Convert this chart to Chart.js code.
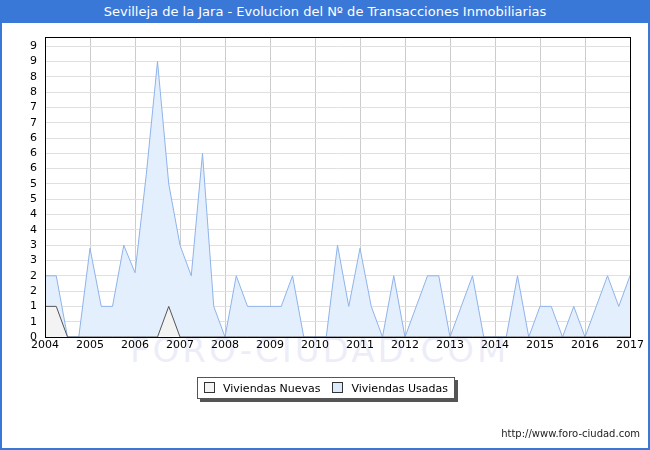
<!DOCTYPE html>
<html><head><meta charset="utf-8">
<script src="https://cdn.jsdelivr.net/npm/chart.js@4"></script>
<style>
body{margin:0;width:650px;height:450px;overflow:hidden;font-family:"DejaVu Sans",sans-serif;background:#fff}
#wrap{position:absolute;left:0;top:0;width:646px;height:448px;border:2px solid #3a78d8;border-top:none}
#title{position:absolute;left:0;top:0;width:650px;height:23px;background:#3a78d8;color:#fff;font-size:13px;text-align:center;line-height:23px}
#c{position:absolute;left:0;top:0}
#legend{position:absolute;left:197px;top:377px;width:256px;height:20px;border:1px solid #555;box-shadow:3px 3px 0 #555;background:#fff;font-size:11px;display:flex;align-items:center;justify-content:space-around}
#legend span.b{display:inline-block;width:9px;height:9px;border:1px solid #333;margin-right:8px;vertical-align:-1px}
#url{position:absolute;right:10px;top:428px;font-size:10px;color:#222}
#wm{position:absolute;left:130px;top:330px;font-size:34px;color:rgba(200,205,235,0.35);letter-spacing:3px}
</style></head><body>
<div id="wrap"></div>
<div id="wm">FORO-CIUDAD.COM</div>
<canvas id="c" width="650" height="450"></canvas>
<div id="title">Sevilleja de la Jara - Evolucion del Nº de Transacciones Inmobiliarias</div>
<div id="legend"><div><span class="b" style="background:#f3f3f3"></span>Viviendas Nuevas</div><div><span class="b" style="background:#dcebfb"></span>Viviendas Usadas</div></div>
<div id="url">http://www.foro-ciudad.com</div>
<script>
const startYear = 2004;
const endYear = 2017;
const usadas = [2,2,0,0,2.9,1,1,3,2.1,5.3,9,5,3,2,6,1,0,2,1,1,1,1,2,0,0,
  0,3,1,2.9,1,0,2,0,1,2,2,0,1,2,0,0,0,2,0,1,1,0,1,0,1,2,1,2];
const nuevas = [1,1,0,0,0,0,0,0,0,0,0,1,0,0,0,0,0,0,0,0,0,0,0,0,0,
  0,0,0,0,0,0,0,0,0,0,0,0,0,0,0,0,0,0,0,0,0,0,0,0,0,0,0,0];
const yTickLabels = ["0","1","1","2","2","3","3","4","4","5","5","6","6","6","7","7","8","8","9","9"];
const toPts = a => a.map((v,i)=>({x:startYear+i/4,y:v}));
const border = {id:'bd',afterDraw(c){const a=c.chartArea,x=c.ctx;x.save();x.strokeStyle='#000';x.lineWidth=1;x.strokeRect(a.left+0.5,a.top+0.5,a.right-a.left,a.bottom-a.top);x.restore();}};
new Chart(document.getElementById('c'),{
  type:'line',
  data:{datasets:[
    {label:'Viviendas Nuevas',data:toPts(nuevas),borderColor:'#555',borderWidth:1,backgroundColor:'#f3f3f3',fill:'origin',pointRadius:0,tension:0,order:0},
    {label:'Viviendas Usadas',data:toPts(usadas),borderColor:'#8fb3ea',borderWidth:1,backgroundColor:'#e3effc',fill:'origin',pointRadius:0,tension:0,order:1}
  ]},
  plugins:[border],
  options:{responsive:false,animation:false,
    layout:{padding:{left:0,top:37,right:20,bottom:93}},
    plugins:{legend:{display:false},tooltip:{enabled:false}},
    scales:{
      x:{type:'linear',min:startYear,max:endYear,
        afterBuildTicks:s=>{s.ticks=[];for(let y=startYear;y<=endYear;y++)s.ticks.push({value:y});},
        afterFit:s=>{s.height=20;},
        ticks:{callback:v=>String(v),autoSkip:false,color:'#000',font:{family:'DejaVu Sans',size:11},maxRotation:0,padding:2},
        grid:{color:'#cccccc',drawTicks:false},border:{display:false}},
      y:{min:0,max:9.8,
        afterBuildTicks:s=>{s.ticks=yTickLabels.map((_,i)=>({value:i*0.5}));},
        afterFit:s=>{s.width=45;},
        ticks:{callback:(v,i)=>yTickLabels[i],autoSkip:false,color:'#000',font:{family:'DejaVu Sans',size:11},padding:8},
        grid:{color:'#e0e0e0',drawTicks:false},border:{display:false}}
    }}
});
</script>
</body></html>
